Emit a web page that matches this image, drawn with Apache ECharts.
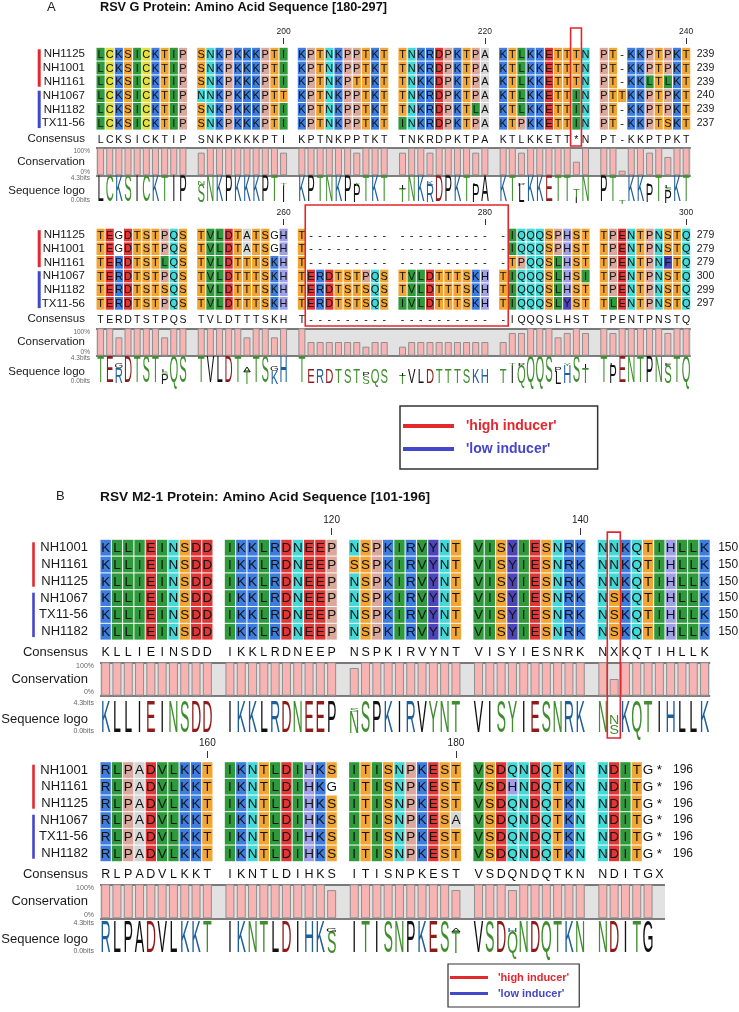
<!DOCTYPE html>
<html>
<head>
<meta charset="utf-8">
<title>RSV alignment</title>
<script src="https://cdn.jsdelivr.net/npm/echarts@6/dist/echarts.min.js"></script>
<style>
html, body { margin: 0; padding: 0; background: #fff; }
#main { width: 739px; height: 1012px; }
</style>
</head>
<body>
<div id="main"></div>
<script>
// ---- data ----
var namesA = ['NH1125', 'NH1001', 'NH1161', 'NH1067', 'NH1182', 'TX11-56'];
var namesB = ['NH1001', 'NH1161', 'NH1125', 'NH1067', 'TX11-56', 'NH1182'];
var groupHigh = [0, 2];
var groupLow = [3, 5];

// G protein, 181-240
var seqA1 = [
    'LCKSICKTIP SNKPKKKPTI KPTNKPPTKT TNKRDPKTPA KTLKKETTTN PT-KKPTPKT',
    'LCKSICKTIP SNKPKKKPTI KPTNKPPTKT TNKRDPKTPA KTLKKETTTN PT-KKPTPKT',
    'LCKSICKTIP SNKPKKKPTI KPTNKPTTKT TNKKDPKTPA KTLKKETTTN PT-KKLTLKT',
    'LCKSICKTIP NNKPKKKPTT KPTNKPPTKT TNKRDPKTPA KTLKKETTIN PTTKKPTPKT',
    'LCKSICKTIP SNKPKKKPTI KPTNKPPTKT TNKRDPKTLA KTLKKETTIN PT-KKPTPKT',
    'LCKSICKTIP SNKPKKKPTI KPTNKPPTKT INKRDPKTPA KTPKKETTIN PT-KKPTSKT'
];
var endsA1 = [239, 239, 239, 240, 239, 237];
var consensusA1 = 'LCKSICKTIP SNKPKKKPTI KPTNKPPTKT TNKRDPKTPA KTLKKETT*N PT-KKPTPKT';
var conservA1 = [
    100, 100, 100, 100, 100, 100, 100, 100, 100, 100,
    83, 100, 100, 100, 100, 100, 100, 100, 100, 83,
    100, 100, 100, 100, 100, 100, 83, 100, 100, 100,
    83, 100, 100, 83, 100, 100, 100, 100, 83, 100,
    100, 100, 83, 100, 100, 100, 100, 100, 50, 100,
    100, 100, 17, 100, 100, 83, 100, 67, 100, 100
];
var logoA1 = [
    'L', 'C', 'K', 'S', 'I', 'C', 'K', 'T', 'I', 'P',
    [['S', 3.1], ['N', 0.6]], 'N', 'K', 'P', 'K', 'K', 'K', 'P', 'T', [['I', 2.9], ['T', 0.5]],
    'K', 'P', 'T', 'N', 'K', 'P', [['P', 3.0], ['T', 0.5]], 'T', 'K', 'T',
    [['T', 2.4], ['I', 0.6]], 'N', 'K', [['R', 3.0], ['K', 0.6]], 'D', 'P', 'K', 'T', [['P', 3.0], ['L', 0.5]], 'A',
    'K', 'T', [['L', 3.0], ['P', 0.5]], 'K', 'K', 'E', 'T', 'T', [['I', 1.1], ['T', 1.2]], 'N',
    'P', 'T', [['T', 0.6]], 'K', 'K', [['P', 3.0], ['L', 0.5]], 'T', [['P', 2.2], ['S', 0.35], ['L', 0.35]], 'K', 'T'
];
var rulerA1 = [[19, '200'], [39, '220'], [59, '240']];

// G protein, 241-300
var seqA2 = [
    'TEGDTSTPQS TVLDTATSGH T--------- ---------- -IQQQSPHST TPENTPNSTQ',
    'TEGDTSTPQS TVLDTATSGH T--------- ---------- -IQQQSPHST TPENTPNSTQ',
    'TERDTSTLQS TVLDTTTSKH T--------- ---------- -TPQQSLHST TPENTPNFTQ',
    'TERDTSTPQS TVLDTTTSKH TERDTSTPQS TVLDTTTSKH TIQQQSLHSI TPENTPNSTQ',
    'TERDTSTSQS TVLDTTTSKH TERDTSTSQS TVLDTTTSKH TIQQQSLHST TPENTPNSTQ',
    'TERDTSTPQS TVLDTTTSKH TERDTSTSQS IVLDTTTSKH TIQQQSLYST TLENTPNSTQ'
];
var endsA2 = [279, 279, 279, 300, 299, 297];
var consensusA2 = 'TERDTSTPQS TVLDTTTSKH T--------- ---------- -IQQQSLHST TPENTPNSTQ';
var conservA2 = [
    100, 100, 67, 100, 100, 100, 100, 67, 100, 100,
    100, 100, 100, 100, 100, 67, 100, 100, 67, 100,
    100, 50, 50, 50, 50, 50, 50, 33, 50, 50,
    33, 50, 50, 50, 50, 50, 50, 50, 50, 50,
    50, 83, 83, 100, 100, 100, 67, 83, 100, 83,
    100, 83, 100, 100, 100, 100, 100, 83, 100, 100
];
var logoA2 = [
    'T', 'E', [['R', 2.6], ['G', 0.9]], 'D', 'T', 'S', 'T', [['P', 1.6], ['S', 0.4], ['L', 0.4]], 'Q', 'S',
    'T', 'V', 'L', 'D', 'T', [['T', 2.0], ['A', 0.8]], 'T', 'S', [['K', 2.1], ['G', 0.8]], 'H',
    'T', [['E', 2.4]], [['R', 2.4]], [['D', 2.4]], [['T', 2.4]], [['S', 2.4]], [['T', 2.4]], [['S', 1.3], ['P', 0.6]], [['Q', 2.4]], [['S', 2.4]],
    [['T', 1.4], ['I', 0.5]], [['V', 2.4]], [['L', 2.4]], [['D', 2.4]], [['T', 2.4]], [['T', 2.4]], [['T', 2.4]], [['S', 2.4]], [['K', 2.4]], [['H', 2.4]],
    [['T', 2.3]], [['I', 3.0], ['T', 0.5]], [['Q', 3.0], ['P', 0.5]], 'Q', 'Q', 'S', [['L', 2.0], ['P', 0.9]], [['H', 3.0], ['Y', 0.5]], 'S', [['T', 2.6], ['I', 0.6]],
    'T', [['P', 3.0], ['L', 0.5]], 'E', 'N', 'T', 'P', 'N', [['S', 3.0], ['F', 0.5]], 'T', 'Q'
];
var rulerA2 = [[19, '260'], [39, '280'], [59, '300']];

// M2-1 protein, 101-150
var seqB1 = [
    'KLLIEINSDD IKKLRDNEEP NSPKIRVYNT VISYIESNRK NNKQTIHLLK',
    'KLLIEINSDD IKKLRDNEEP SSPKIRVYNT VISYIESNRK NNKQTIHLLK',
    'KLLIEINSDD IKKLRDNEEP NSPKIRVYNT VISYIESNRK NNKQTIHLLK',
    'KLLIEINSDD IKKLRDNEEP NSPKIRVYNT VISYIESNRK NSKQTIHLLK',
    'KLLIEINSDD IKKLRDNEEP NSPKIRVYNT VISYIESNRK NSKQTIHLLK',
    'KLLIEINSDD IKKLRDNEEP NSPKIRVYNT VISYIESNRK NSKQTIHLLK'
];
var endsB1 = [150, 150, 150, 150, 150, 150];
var consensusB1 = 'KLLIEINSDD IKKLRDNEEP NSPKIRVYNT VISYIESNRK NXKQTIHLLK';
var conservB1 = [
    100, 100, 100, 100, 100, 100, 100, 100, 100, 100,
    100, 100, 100, 100, 100, 100, 100, 100, 100, 100,
    83, 100, 100, 100, 100, 100, 100, 100, 100, 100,
    100, 100, 100, 100, 100, 100, 100, 100, 100, 100,
    100, 50, 100, 100, 100, 100, 100, 100, 100, 100
];
var logoB1 = [
    'K', 'L', 'L', 'I', 'E', 'I', 'N', 'S', 'D', 'D',
    'I', 'K', 'K', 'L', 'R', 'D', 'N', 'E', 'E', 'P',
    [['N', 3.1], ['S', 0.5]], 'S', 'P', 'K', 'I', 'R', 'V', 'Y', 'N', 'T',
    'V', 'I', 'S', 'Y', 'I', 'E', 'S', 'N', 'R', 'K',
    'N', [['S', 1.3], ['N', 1.2]], 'K', 'Q', 'T', 'I', 'H', 'L', 'L', 'K'
];
var rulerB1 = [[19, '120'], [39, '140']];

// M2-1 protein, 151-196
var seqB2 = [
    'RLPADVLKKT IKNTLDIHKS ITISNPKEST VSDQNDQTKN NDITG*',
    'RLPADVLKKT IKNTLDIHKG ITISNPKEST VSDHNDQTKN NDITG*',
    'RLPADVLKKT IKNTLDIHKS ITISNPKEST VSDQNDQTKN NDITG*',
    'RLPADVLKKT IKNTLDIHKS ITISNPKESA VSDQNDQTKN NDITG*',
    'RLPADVLKKT IKNTLDIHKS ITISNPKEST VSDQNDQTKN NDITG*',
    'RLPADVLKKT IKNTLDIHKS ITISNPKEST VSDQNDQTKN NDITG*'
];
var endsB2 = [196, 196, 196, 196, 196, 196];
var consensusB2 = 'RLPADVLKKT IKNTLDIHKS ITISNPKEST VSDQNDQTKN NDITGX';
var conservB2 = [
    100, 100, 100, 100, 100, 100, 100, 100, 100, 100,
    100, 100, 100, 100, 100, 100, 100, 100, 100, 83,
    100, 100, 100, 100, 100, 100, 100, 100, 100, 83,
    100, 100, 100, 83, 100, 100, 100, 100, 100, 100,
    100, 100, 100, 100, 100, null
];
var logoB2 = [
    'R', 'L', 'P', 'A', 'D', 'V', 'L', 'K', 'K', 'T',
    'I', 'K', 'N', 'T', 'L', 'D', 'I', 'H', 'K', [['S', 3.0], ['G', 0.5]],
    'I', 'T', 'I', 'S', 'N', 'P', 'K', 'E', 'S', [['T', 3.0], ['A', 0.5]],
    'V', 'S', 'D', [['Q', 3.0], ['H', 0.5]], 'N', 'D', 'Q', 'T', 'K', 'N',
    'N', 'D', 'I', 'T', 'G', null
];
var rulerB2 = [[9, '160'], [29, '180']];

// highlighted columns: [first col, last col]
var boxA1 = [48, 48];
var boxA2 = [21, 40];
var boxB1 = [41, 41];

// ---- styles ----
var FONT = "'Liberation Sans', Arial, sans-serif";
var RED = '#e3292d';
var BLUE = '#4347c9';
var cellColor = {
    L: '#2e9a3c', I: '#2e9a3c', V: '#2e9a3c', M: '#2e9a3c',
    C: '#e2e03c', K: '#3d7ddf', R: '#3d7ddf', H: '#a0a0e6',
    S: '#f2a532', T: '#f2a532', N: '#42d9d6', Q: '#42d9d6',
    D: '#e03636', E: '#e03636', P: '#dca89b', A: '#d6d6d6',
    F: '#4d44ba', Y: '#4d44ba', W: '#4d44ba'
};
function logoColor(ch) {
    if ('KRH'.indexOf(ch) >= 0) return '#1f5f98';
    if ('DE'.indexOf(ch) >= 0) return '#8d1b1b';
    if ('STNQCY'.indexOf(ch) >= 0) return '#3f8e2e';
    return '#111';
}

// layout of each block (pixels)
var LA1 = {left: 96, cellW: 9.15, slots: 65, seqTop: 47.3, rowH: 13.8, tickOffset: 3.3, tickLen: 6, rulerSize: 8.5, rulerMargin: 8,
    nameSize: 11.5, nameMargin: 11, endSize: 10.5, endMargin: 6, cellFont: 11, consFont: 10.5, labelSize: 11.5, smallSize: 6.5,
    consY: 139.3, consH: 12, consvTop: 148, consvH: 27.3, logoTop: 178, logoH: 26, logoW: 7.5, barW: 7, barOffset: -56.8, barInset: 2, barLine: 3,
    box: boxA1, boxTop: -1.9, boxBottom: 6.65};
var LA2 = {left: 96, cellW: 9.15, slots: 65, seqTop: 228.2, rowH: 13.66, tickOffset: 3.2, tickLen: 6, rulerSize: 8.5, rulerMargin: 8,
    nameSize: 11.5, nameMargin: 11, endSize: 10.5, endMargin: 6, cellFont: 11, consFont: 10.5, labelSize: 11.5, smallSize: 6.5,
    consY: 319.3, consH: 12, consvTop: 328.3, consvH: 27.4, logoTop: 358, logoH: 27, logoW: 7.5, barW: 7, barOffset: -56.8, barInset: 2, barLine: 3,
    box: boxA2, boxTop: -2.2, boxBottom: 6.66};
var LB1 = {left: 100, cellW: 11.3, slots: 54, seqTop: 539.3, rowH: 16.8, tickOffset: 4.3, tickLen: 7, rulerSize: 10, rulerMargin: 9.5,
    nameSize: 13, nameMargin: 12, endSize: 12, endMargin: 8, cellFont: 13.5, consFont: 12.5, labelSize: 13, smallSize: 7,
    consY: 652.3, consH: 14, consvTop: 662.3, consvH: 33.4, logoTop: 703, logoH: 32, logoW: 9.5, barW: 9, barOffset: -66.5, barInset: 3, barLine: 2.6,
    box: boxB1, boxTop: -0.93, boxBottom: 11.33};
var LB2 = {left: 100, cellW: 11.3, slots: 50, seqTop: 761.7, rowH: 16.67, tickOffset: 3.7, tickLen: 7, rulerSize: 10, rulerMargin: 9.5,
    nameSize: 13, nameMargin: 12, endSize: 12, endMargin: 8, cellFont: 13.5, consFont: 12.5, labelSize: 13, smallSize: 7,
    consY: 874.3, consH: 14, consvTop: 884.3, consvH: 34, logoTop: 923.3, logoH: 31.7, logoW: 9.5, barW: 9, barOffset: -66.5, barInset: 3, barLine: 2.6,
    box: null};

function slotOf(c) { return c + Math.floor(c / 10); }

var option = {
    animation: false,
    backgroundColor: '#fff',
    textStyle: {fontFamily: FONT},
    title: [
        {text: 'A', left: 47, top: 1, padding: 0, textStyle: {fontSize: 13, fontWeight: 'normal', color: '#222', fontFamily: FONT}},
        {text: 'RSV G Protein: Amino Acid Sequence [180-297]', left: 100, top: 1, padding: 0,
            textStyle: {fontSize: 12.7, fontWeight: 'bold', color: '#111', fontFamily: FONT}},
        {text: 'B', left: 56, top: 490, padding: 0, textStyle: {fontSize: 13, fontWeight: 'normal', color: '#222', fontFamily: FONT}},
        {text: 'RSV M2-1 Protein: Amino Acid Sequence [101-196]', left: 100, top: 490, padding: 0,
            textStyle: {fontSize: 13.7, fontWeight: 'bold', color: '#111', fontFamily: FONT}}
    ],
    legend: [
        {orient: 'vertical', left: 400, top: 406, itemWidth: 51, itemHeight: 4, itemGap: 9, icon: 'rect',
            padding: [13, 41, 13, 3], borderColor: '#333', borderWidth: 1.5, selectedMode: false,
            textStyle: {fontSize: 14, fontWeight: 'bold', fontFamily: FONT, padding: [0, 0, 0, 7]},
            data: [{name: "'high inducer'", textStyle: {color: '#e6262e'}}, {name: "'low inducer'", textStyle: {color: '#4545c6'}}]},
        {orient: 'vertical', left: 448, top: 964, itemWidth: 38, itemHeight: 3, itemGap: 5, icon: 'rect',
            padding: [8, 10, 8, 2], borderColor: '#333', borderWidth: 1.2, selectedMode: false,
            textStyle: {fontSize: 11, fontWeight: 'bold', fontFamily: FONT, padding: [0, 0, 0, 5]},
            data: [{name: "'high inducer'", textStyle: {color: '#e6262e'}}, {name: "'low inducer'", textStyle: {color: '#4545c6'}}]}
    ],
    grid: [],
    xAxis: [],
    yAxis: [],
    series: []
};

function addAxes(g, x, ys) {
    g.outerBoundsMode = 'none';
    option.grid.push(g);
    var gi = option.grid.length - 1;
    x.gridIndex = gi;
    option.xAxis.push(x);
    var xi = option.xAxis.length - 1;
    var yi = ys.map(function (y) {
        y.gridIndex = gi;
        option.yAxis.push(y);
        return option.yAxis.length - 1;
    });
    return {x: xi, y: yi};
}

function hiddenX(slots) {
    return {type: 'value', min: -0.5, max: slots - 0.5, show: false};
}

function letterRow(chars, font, withBg) {
    return function (params, api) {
        var ch = chars[params.dataIndex];
        var p = api.coord([api.value(0), api.value(1)]);
        var s = api.size([1, 1]);
        var kids = [];
        if (withBg && cellColor[ch]) {
            kids.push({type: 'rect', shape: {x: p[0] - s[0] / 2 + 0.5, y: p[1] - s[1] / 2 + 0.5, width: s[0] - 1, height: s[1] - 1},
                style: {fill: cellColor[ch]}});
        }
        kids.push({type: 'text', x: p[0], y: p[1] + 0.5,
            style: {text: ch, font: font + 'px ' + FONT, fill: '#111', align: 'center', verticalAlign: 'middle'}});
        return {type: 'group', children: kids};
    };
}

function buildBlock(names, seqs, ends, consensus, conserv, logo, ruler, L) {
    var width = L.slots * L.cellW;
    var rulerSlots = ruler.map(function (r) { return slotOf(r[0]); });
    var rulerText = {};
    ruler.forEach(function (r) { rulerText[slotOf(r[0])] = r[1]; });

    // sequences, names and end positions
    var seqAx = addAxes(
        {left: L.left, top: L.seqTop, width: width, height: 6 * L.rowH},
        {type: 'value', min: -0.5, max: L.slots - 0.5, position: 'top', offset: L.tickOffset,
            axisLine: {show: false}, splitLine: {show: false},
            axisTick: {show: true, customValues: rulerSlots, length: L.tickLen, lineStyle: {color: '#333', width: 1}},
            axisLabel: {show: true, customValues: rulerSlots, margin: L.rulerMargin, fontSize: L.rulerSize, color: '#222', fontFamily: FONT,
                formatter: function (v) { return rulerText[v] || ''; }}},
        [{type: 'category', data: names, inverse: true, axisLine: {show: false}, axisTick: {show: false},
            axisLabel: {interval: 0, margin: L.nameMargin, fontSize: L.nameSize, color: '#1a1a1a', fontFamily: FONT}},
         {type: 'category', position: 'right', data: names, inverse: true, axisLine: {show: false}, axisTick: {show: false},
            axisLabel: {interval: 0, margin: L.endMargin, fontSize: L.endSize, color: '#1a1a1a', fontFamily: FONT,
                formatter: function (v, i) { return String(ends[i]); }}}]
    );
    var cellData = [], cellChars = [];
    seqs.forEach(function (s, r) {
        for (var i = 0; i < s.length; i++) {
            if (s[i] !== ' ') { cellData.push([i, r]); cellChars.push(s[i]); }
        }
    });
    option.series.push({type: 'custom', xAxisIndex: seqAx.x, yAxisIndex: seqAx.y[0], data: cellData,
        renderItem: letterRow(cellChars, L.cellFont, true)});

    // group bars at the left
    [["'high inducer'", groupHigh, RED], ["'low inducer'", groupLow, BLUE]].forEach(function (g) {
        option.series.push({type: 'custom', name: g[0], xAxisIndex: seqAx.x, yAxisIndex: seqAx.y[0],
            itemStyle: {color: g[2]}, data: [[g[1][0], g[1][1]]],
            renderItem: function (params, api) {
                var a = api.coord([0, api.value(0)]);
                var b = api.coord([0, api.value(1)]);
                var h = api.size([1, 1])[1];
                var x = params.coordSys.x + L.barOffset;
                return {type: 'rect', shape: {x: x - L.barLine / 2, y: a[1] - h / 2 + L.barInset, width: L.barLine,
                    height: b[1] - a[1] + h - 2 * L.barInset}, style: {fill: g[2]}};
            }});
    });

    // highlighted column box
    if (L.box) {
        option.series.push({type: 'custom', xAxisIndex: seqAx.x, yAxisIndex: seqAx.y[0], z: 10,
            data: [[slotOf(L.box[0]), slotOf(L.box[1])]],
            renderItem: function (params, api) {
                var a = api.coord([api.value(0), 0]);
                var b = api.coord([api.value(1), 0]);
                var s = api.size([1, 1]);
                var x0 = a[0] - s[0] / 2 - 1.2, x1 = b[0] + s[0] / 2 + 0.5;
                var y0 = a[1] + L.boxTop * s[1], y1 = a[1] + L.boxBottom * s[1];
                return {type: 'rect', shape: {x: x0, y: y0, width: x1 - x0, height: y1 - y0},
                    style: {fill: 'none', stroke: '#e3262b', lineWidth: 1.6}};
            }});
    }

    // consensus
    var consAx = addAxes({left: L.left, top: L.consY - L.consH / 2, width: width, height: L.consH}, hiddenX(L.slots),
        [{type: 'category', data: ['Consensus'], axisLine: {show: false}, axisTick: {show: false},
            axisLabel: {margin: L.nameMargin, fontSize: L.labelSize, color: '#1a1a1a', fontFamily: FONT}}]);
    var consData = [], consChars = [];
    for (var i = 0; i < consensus.length; i++) {
        if (consensus[i] !== ' ') { consData.push([i, 0]); consChars.push(consensus[i]); }
    }
    option.series.push({type: 'custom', xAxisIndex: consAx.x, yAxisIndex: consAx.y[0], data: consData,
        renderItem: letterRow(consChars, L.consFont, false)});

    // conservation
    var cvAx = addAxes({left: L.left, top: L.consvTop, width: width, height: L.consvH, show: true, backgroundColor: '#e2e2e2', borderWidth: 0},
        hiddenX(L.slots),
        [{type: 'value', min: 0, max: 100, interval: 100, name: 'Conservation', nameLocation: 'middle', nameRotate: 0,
            nameGap: L.nameMargin, nameMoveOverlap: false,
            nameTextStyle: {fontSize: L.labelSize, color: '#1a1a1a', fontFamily: FONT},
            axisLine: {show: false}, axisTick: {show: false},
            splitLine: {show: true, lineStyle: {color: '#555', width: 1.5}},
            axisLabel: {fontSize: L.smallSize, color: '#666', margin: 6, formatter: '{value}%', fontFamily: FONT,
                verticalAlignMinLabel: 'bottom', verticalAlignMaxLabel: 'top'}}]);
    var cvData = [];
    conserv.forEach(function (v, c) { if (v != null) cvData.push([slotOf(c), v]); });
    option.series.push({type: 'bar', xAxisIndex: cvAx.x, yAxisIndex: cvAx.y[0], data: cvData, barWidth: L.barW,
        itemStyle: {color: '#f8b3b3', borderColor: '#8f8f8f', borderWidth: 1}});

    // sequence logo
    var lgAx = addAxes({left: L.left, top: L.logoTop, width: width, height: L.logoH}, hiddenX(L.slots),
        [{type: 'value', min: 0, max: 4.3, interval: 4.3, name: 'Sequence logo', nameLocation: 'middle', nameRotate: 0,
            nameGap: L.nameMargin, nameMoveOverlap: false,
            nameTextStyle: {fontSize: L.labelSize, color: '#1a1a1a', fontFamily: FONT},
            axisLine: {show: false}, axisTick: {show: false}, splitLine: {show: false},
            axisLabel: {fontSize: L.smallSize, color: '#666', margin: 6, fontFamily: FONT,
                formatter: function (v) { return v.toFixed(1) + 'bits'; }, verticalAlignMinLabel: 'bottom'}}]);
    var lgData = [], stacks = [];
    logo.forEach(function (col, c) {
        if (col == null) return;
        lgData.push([slotOf(c), 0]);
        stacks.push(typeof col === 'string' ? [[col, 4.3]] : col);
    });
    var F = 20;
    option.series.push({type: 'custom', xAxisIndex: lgAx.x, yAxisIndex: lgAx.y[0], data: lgData,
        renderItem: function (params, api) {
            var st = stacks[params.dataIndex];
            var base = api.coord([api.value(0), 0]);
            var y = base[1];
            var kids = [];
            st.forEach(function (it) {
                var h = api.size([0, it[1]])[1];
                kids.push({type: 'text', x: base[0], y: y - h / 2 + 0.01 * h,
                    scaleX: L.logoW / (0.667 * F), scaleY: h / (0.716 * F),
                    style: {text: it[0], font: F + 'px ' + FONT, fill: logoColor(it[0]), align: 'center', verticalAlign: 'middle'}});
                y -= h;
            });
            return {type: 'group', children: kids};
        }});
}

buildBlock(namesA, seqA1, endsA1, consensusA1, conservA1, logoA1, rulerA1, LA1);
buildBlock(namesA, seqA2, endsA2, consensusA2, conservA2, logoA2, rulerA2, LA2);
buildBlock(namesB, seqB1, endsB1, consensusB1, conservB1, logoB1, rulerB1, LB1);
buildBlock(namesB, seqB2, endsB2, consensusB2, conservB2, logoB2, rulerB2, LB2);

var myChart = echarts.init(document.getElementById('main'), null, {renderer: 'canvas'});
myChart.setOption(option);
</script>
</body>
</html>
